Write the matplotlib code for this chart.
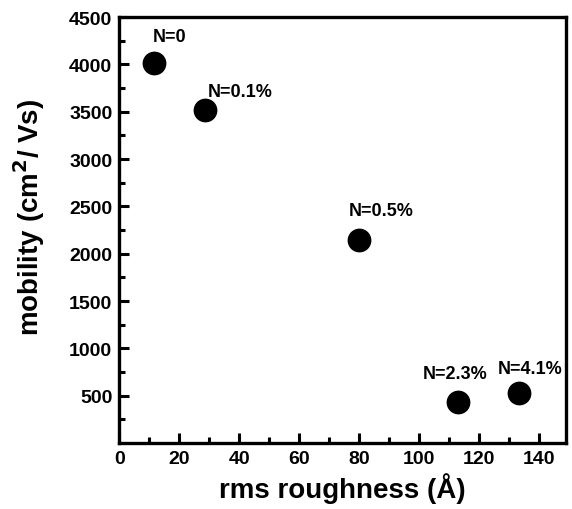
import matplotlib.pyplot as plt
from matplotlib.ticker import MultipleLocator

plt.rcParams['font.family'] = ['Liberation Sans', 'DejaVu Sans']
plt.rcParams['font.weight'] = 'bold'

# Data
roughness = [11.5, 28.7, 80.0, 113.0, 133.2]
mobility = [4010, 3520, 2145, 436, 531]
labels = ['N=0', 'N=0.1%', 'N=0.5%', 'N=2.3%', 'N=4.1%']
label_offsets = [(11, 13), (25, 7), (16, 15), (-2, 14), (8, 11)]

fig = plt.figure(figsize=(5.72, 5.10), dpi=100)
ax = fig.add_axes([0.2086, 0.1294, 0.7814, 0.8353])

ax.scatter(roughness, mobility, s=260, color='black', zorder=3)
for x, y, t, off in zip(roughness, mobility, labels, label_offsets):
    ax.annotate(t, (x, y), xytext=off, textcoords='offset points',
                ha='center', va='bottom', fontsize=13, fontweight='bold')

ax.set_xlim(0, 149)
ax.set_ylim(0, 4500)
ax.xaxis.set_major_locator(MultipleLocator(20))
ax.xaxis.set_minor_locator(MultipleLocator(10))
ax.set_yticks(range(500, 4501, 500))
ax.yaxis.set_minor_locator(MultipleLocator(250))

for s in ax.spines.values():
    s.set_linewidth(2.4)
ax.tick_params(which='both', direction='in', width=2.2, labelsize=14, pad=5)
ax.tick_params(which='major', length=7)
ax.tick_params(which='minor', length=4)
for lab in ax.get_xticklabels() + ax.get_yticklabels():
    lab.set_fontweight('bold')

ax.set_xlabel('rms roughness (Å)', fontsize=20, fontweight='bold', labelpad=4)
ax.set_ylabel('mobility (cm$^\\mathbf{2}$/ Vs)', fontsize=20, fontweight='bold')
ax.yaxis.set_label_coords(-0.161, 0.533)

fig.savefig('out.png', dpi=100)
plt.close(fig)
